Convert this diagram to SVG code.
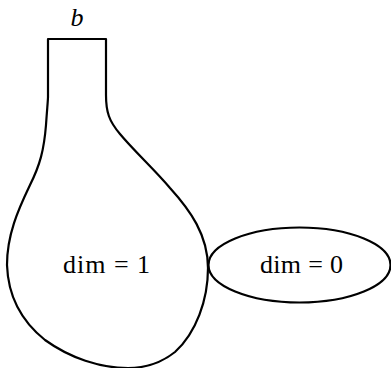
<svg xmlns="http://www.w3.org/2000/svg" width="391" height="368" viewBox="0 0 391 368">
<style>
.shape{fill:none;stroke:#000;stroke-width:2.2;stroke-linejoin:round}
.lbl{font-family:"Liberation Serif","Times New Roman",serif;font-size:26px;fill:#000}
</style>
<rect width="391" height="368" fill="#fff"/>
<g id="bulb">
<path class="shape" d="M48,39 H106 V95 C106,112 109,121 120,134 C135,152 155,170 170,188 C190,210 208,235 208,268 C208,300 196,333 175,352 C160,364 145,368 128,368 C100,368 70,358 45,340 C20,320 8,295 7,265 C7,235 18,210 30,185 C40,165 44,150 46,125 C47,110 48,100 48,97 Z"/>
<text class="lbl" x="77" y="26" text-anchor="middle" font-style="italic">b</text>
<text class="lbl" x="63" y="273" textLength="87" lengthAdjust="spacing">dim = 1</text>
</g>
<g id="point">
<ellipse class="shape" cx="299.5" cy="265" rx="91" ry="37.5"/>
<text class="lbl" x="260" y="273" textLength="83" lengthAdjust="spacing">dim = 0</text>
</g>
<g id="connectors"></g>
</svg>
